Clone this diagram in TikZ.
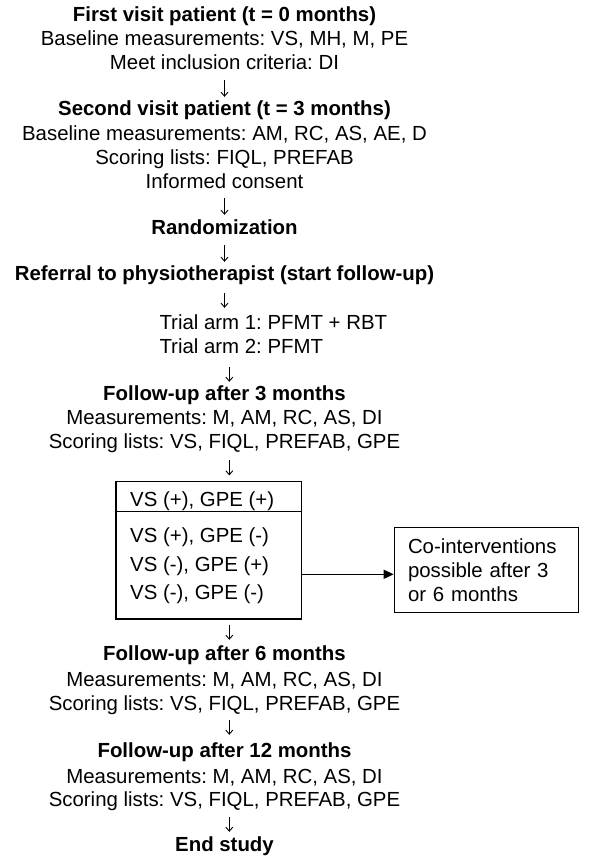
\documentclass[tikz,border=0pt]{standalone}
\usepackage{fontspec}
\setmainfont{Liberation Sans}
\usetikzlibrary{arrows.meta}
\frenchspacing
\begin{document}
\begin{tikzpicture}[x=1pt,y=-1pt,
  txt/.style={inner sep=0pt, text height=15pt, text depth=4.5pt, font=\fontsize{20.4}{24}\selectfont},
  hd/.style={txt, font=\fontsize{20.4}{24}\selectfont\bfseries},
  flow/.style={line width=0.9pt, -{Straight Barb[length=4pt,width=7pt]}},
  boxline/.style={line width=1.2pt},
  box/.style={draw, line width=1.2pt, rectangle, inner sep=0pt},
  solidarrow/.style={line width=1.2pt, -{Triangle[length=10pt,width=9pt]}}
]
\useasboundingbox (0,0) rectangle (600,860);

% Block 1
\node[hd, anchor=base] (l1) at (224.5,21.2) {First visit patient (t = 0 months)};
\node[txt, anchor=base] (l2) at (224.5,45.2) {Baseline measurements: VS, MH, M, PE};
\node[txt, anchor=base] (l3) at (224.5,69.2) {Meet inclusion criteria: DI};
% Block 2
\node[hd, anchor=base] (sv) at (224.5,115.7) {Second visit patient (t = 3 months)};
\node[txt, anchor=base] (b2) at (224.5,140.2) {Baseline measurements: AM, RC, AS, AE, D};
\node[txt, anchor=base] (s2) at (224.5,164.2) {Scoring lists: FIQL, PREFAB};
\node[txt, anchor=base] (ic) at (224.5,188.2) {Informed consent};
% Randomization
\node[hd, anchor=base] (rd) at (224.5,234.7) {Randomization};
% Referral
\node[hd, anchor=base] (rf) at (224.5,280.2) {Referral to physiotherapist (start follow-up)};
% Trial arms
\node[txt, anchor=base west] (ta1) at (159.3,329.7) {Trial arm 1: PFMT + RBT};
\node[txt, anchor=base west] (ta2) at (159.3,353.2) {Trial arm 2: PFMT};
% Follow-up 3
\node[hd, anchor=base] (f3) at (224.5,400.2) {Follow-up after 3 months};
\node[txt, anchor=base] (m3) at (224.5,424.2) {Measurements: M, AM, RC, AS, DI};
\node[txt, anchor=base] (s3) at (224.5,448.2) {Scoring lists: VS, FIQL, PREFAB, GPE};
% Outcome box
\node[box, minimum width=185.7pt, minimum height=137.3pt] (outcome) at (208.85,550.35) {};
\coordinate (divy) at (0,511.7);
\draw[boxline] (outcome.west |- divy) -- (outcome.east |- divy);
\node[txt, anchor=base west] (r1) at (130,506.7) {VS (+), GPE (+)};
\node[txt, anchor=base west] (r2) at (130,542.7) {VS (+), GPE (-)};
\node[txt, anchor=base west] (r3) at (130,571.2) {VS (-), GPE (+)};
\node[txt, anchor=base west] (r4) at (130,599.7) {VS (-), GPE (-)};
% Co-interventions box
\node[box, minimum width=184pt, minimum height=85pt, text width=156.6pt, align=left,
  inner xsep=13.7pt, inner ysep=0pt, font=\fontsize{20.4}{24}\selectfont] (co) at (486.3,569.8)
  {Co-interventions\\possible after 3\\or 6 months};
% Follow-up 6
\node[hd, anchor=base] (f6) at (224.5,660.2) {Follow-up after 6 months};
\node[txt, anchor=base] (m6) at (224.5,686.7) {Measurements: M, AM, RC, AS, DI};
\node[txt, anchor=base] (s6) at (224.5,710.2) {Scoring lists: VS, FIQL, PREFAB, GPE};
% Follow-up 12
\node[hd, anchor=base] (f12) at (224.5,757.2) {Follow-up after 12 months};
\node[txt, anchor=base] (m12) at (224.5,783.7) {Measurements: M, AM, RC, AS, DI};
\node[txt, anchor=base] (s12) at (224.5,806.7) {Scoring lists: VS, FIQL, PREFAB, GPE};
% End
\node[hd, anchor=base] (end) at (224.5,851.7) {End study};

% Connectors
\draw[flow, shorten <=6.3pt, shorten >=3.7pt] (l3.south) -- (sv.north);
\draw[flow, shorten <=5.3pt, shorten >=4.7pt] (ic.south) -- (rd.north);
\draw[flow, shorten <=5.8pt, shorten >=3.2pt] (rd.south) -- (rf.north);
\draw[flow, shorten <=8.3pt, shorten >=6.7pt] (rf.south) -- (rf.south |- ta1.north);
\draw[flow, shorten <=9.3pt, shorten >=3.2pt] ([xshift=4.8pt]f3.north |- ta2.south) -- ([xshift=4.8pt]f3.north);
\draw[flow, shorten <=7.3pt, shorten >=5.7pt] ([xshift=4.8pt]s3.south) -- ([xshift=4.8pt]s3.south |- outcome.north);
\draw[flow, shorten <=5pt, shorten >=5.2pt] ([xshift=4.8pt]f6.north |- outcome.south) -- ([xshift=4.8pt]f6.north);
\draw[flow, shorten <=5.3pt, shorten >=7.2pt] ([xshift=4.8pt]s6.south) -- ([xshift=4.8pt]f12.north);
\draw[flow, shorten <=5.8pt, shorten >=4.7pt] ([xshift=4.8pt]s12.south) -- ([xshift=4.8pt]end.north);
\coordinate (hit) at ([yshift=-4.5pt]co.west);
\draw[solidarrow] (outcome.east |- hit) -- (hit);
\end{tikzpicture}
\end{document}
